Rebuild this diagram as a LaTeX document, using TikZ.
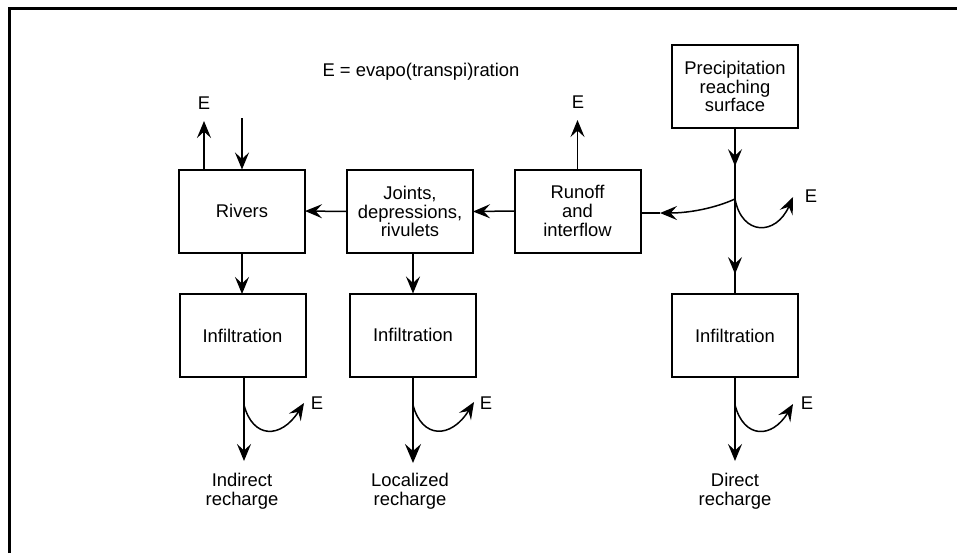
\documentclass[tikz,border=0pt]{standalone}
\usepackage{fontspec}
\setmainfont{Liberation Sans}
\usetikzlibrary{arrows.meta,decorations.markings}
\begin{document}
\begin{tikzpicture}[x=0.5pt,y=-0.5pt,
  font=\fontsize{9.2}{9.4}\selectfont,
  every node/.style={inner sep=0pt, outer sep=0pt},
  flowbox/.style={draw, line width=1pt, minimum width=63pt, minimum height=41.5pt, align=center},
  conn/.style={line width=0.75pt},
  head/.style={Stealth[length=8.5pt,width=7pt,inset=3.2pt]},
  flow/.style={conn, -{Stealth[length=8.5pt,width=7pt,inset=3.2pt]}},
  bigflow/.style={line width=1pt, -{Stealth[length=9.5pt,width=8pt,inset=3.5pt]}},
  midarrows/.style={postaction={decorate}, decoration={markings,
      mark=at position 0.23 with {\arrow{Stealth[length=8.5pt,width=7pt,inset=3.2pt]}},
      mark=at position 0.88 with {\arrow{Stealth[length=8.5pt,width=7pt,inset=3.2pt]}}}},
  lbl/.style={align=center},
]
\useasboundingbox (0,0) rectangle (957,553);

% outer frame
\draw[line width=1.5pt, line join=miter] (9,553) -- (9,8) -- (960,8);

% legend
\node (legend) at (421,72) {E = evapo(transpi)ration};

% boxes
\node[flowbox] (prec)   at (735,86.5)  {Precipitation\\reaching\\surface};
\node[flowbox] (rivers) at (242,211)   {Rivers};
\node[flowbox] (joints) at (410,211.5) {Joints,\\depressions,\\rivulets};
\node[flowbox] (runoff) at (577.5,211) {Runoff\\and\\interflow};
\node[flowbox] (inf1)   at (242.5,335.5) {Infiltration};
\node[flowbox] (inf2)   at (413,335)   {Infiltration};
\node[flowbox] (inf3)   at (735,335.5) {Infiltration};

% evaporation labels
\node (eriv) at (204,103) {E};
\node (erun) at (578,102) {E};
\node (ejun) at (811,196) {E};
\node (e1)   at (317,403) {E};
\node (e2)   at (486,403) {E};
\node (e3)   at (807,403) {E};

\coordinate (rivin) at (242,118);
\coordinate (j)     at (735,199);
\coordinate (rtip)  at (660,213);
\coordinate (ejtip) at (793,197);

% recharge outlets and branch points
\coordinate (out1) at (244,461);
\coordinate (out2) at (413,463);
\coordinate (out3) at (735,461);
\coordinate (tip1) at (304,403);
\coordinate (tip2) at (474,402);
\coordinate (tip3) at (793,404);
\coordinate (br1)  at (244,405);
\coordinate (br2)  at (413,405);
\coordinate (br3)  at (735,405);

\node[lbl] (rech1) at (242,491) {Indirect\\recharge};
\node[lbl] (rech2) at (410,491) {Localized\\recharge};
\node[lbl] (rech3) at (735,491) {Direct\\recharge};

% rivers: evaporation out, inflow from above
\draw[flow] (rivers.north -| eriv) -- (eriv.south |- 0,121);
\draw[flow] (rivin) -- (rivers.north);

% lateral flows
\draw[flow] (joints.west) -- (rivers.east);
\draw[flow] (runoff.west) -- (joints.east);
\draw[flow] (runoff.north) -- (runoff.north |- 0,120);

% precipitation trunk down to direct infiltration
\draw[conn, midarrows] (prec.south) -- (inf3.north);
% share diverted to runoff
\draw[flow] (j) .. controls (715,208) and (690,213) .. (rtip);
\draw[conn] (rtip) -- (runoff.east |- rtip);
% evaporation at the surface
\draw[flow] (j) .. controls (742,236) and (776,236) .. (ejtip);

% downward flows into infiltration
\draw[flow] (rivers.south) -- (rivers.south |- inf1.north);
\draw[flow] (joints.south -| inf2) -- (inf2.north);

% infiltration to recharge
\draw[flow] (inf1.south -| out1) -- (out1);
\draw[bigflow] (inf2.south) -- (out2);
\draw[flow] (inf3.south) -- (out3);

% evaporation losses below infiltration
\draw[flow] (br1) .. controls (253,439) and (281,439) .. (tip1);
\draw[flow] (br2) .. controls (422,439) and (451,439) .. (tip2);
\draw[flow] (br3) .. controls (744,439) and (772,439) .. (tip3);
\end{tikzpicture}
\end{document}
